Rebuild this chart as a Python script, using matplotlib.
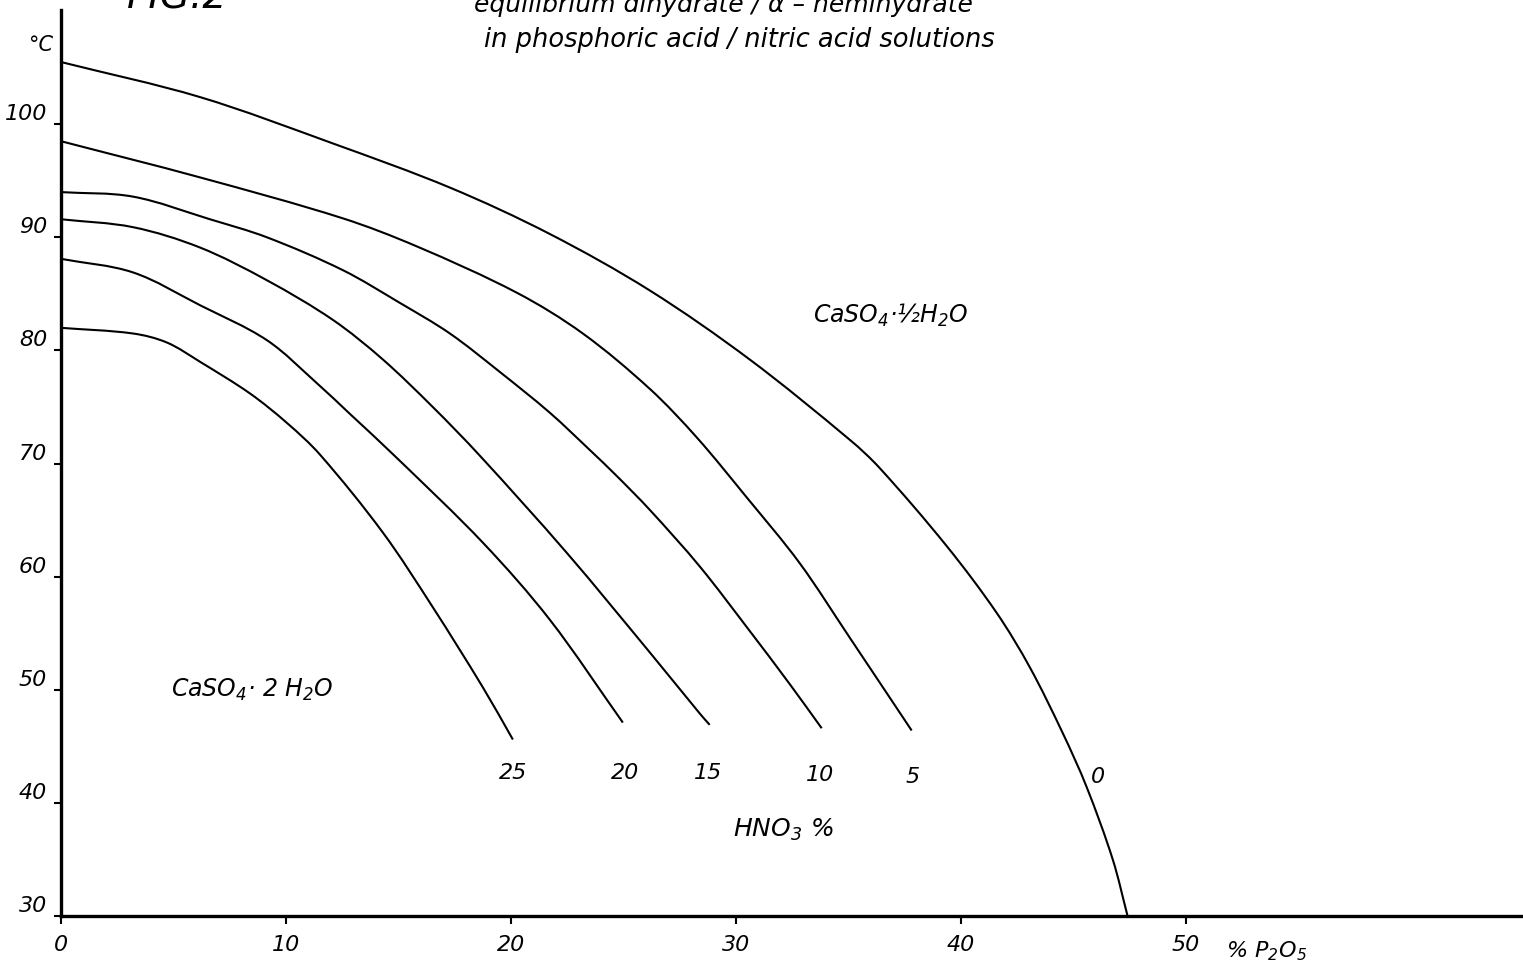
import matplotlib
matplotlib.use('Agg')
import matplotlib.pyplot as plt
from matplotlib.path import Path
from matplotlib.patches import PathPatch
import numpy as np

# boundary curves dihydrate / hemihydrate
# x: % P2O5, y: temperature in degC, one curve per HNO3 concentration
hno3_levels = ['0', '5', '10', '15', '20', '25']

p2o5_0 = [0.0, 6.18, 12.09, 17.29, 21.73, 26.18, 30.62, 35.07, 36.4, 39.38, 41.6, 43.07, 44.53, 45.6, 46.76, 47.42]
temp_0 = [105.5, 102.4, 98.3, 94.4, 90.3, 85.3, 79.2, 72.1, 69.6, 62.7, 56.8, 52.0, 46.2, 41.4, 35.0, 30.0]

p2o5_5 = [0.0, 6.18, 12.5, 15.82, 20.27, 23.2, 26.18, 28.27, 30.49, 32.84, 35.07, 37.82]
temp_5 = [98.5, 95.3, 91.7, 89.2, 85.1, 81.5, 76.6, 72.3, 67.0, 61.2, 54.6, 46.4]

p2o5_10 = [0.0, 3.2, 6.62, 9.16, 12.53, 15.07, 17.29, 19.51, 21.73, 23.51, 24.71, 26.18, 28.4, 30.62, 32.4, 33.82]
temp_10 = [94.0, 93.6, 91.6, 90.0, 87.1, 84.2, 81.5, 78.1, 74.5, 71.2, 68.9, 65.9, 60.9, 55.2, 50.5, 46.6]

p2o5_15 = [0.0, 3.2, 6.18, 9.16, 12.09, 14.31, 16.53, 18.62, 22.49, 26.18, 28.4, 28.84]
temp_15 = [91.6, 90.9, 89.1, 86.2, 82.7, 79.2, 75.0, 70.7, 62.1, 53.3, 47.9, 46.9]

p2o5_20 = [0.0, 3.2, 6.18, 9.16, 11.38, 12.84, 14.93, 18.76, 21.73, 24.98]
temp_20 = [88.1, 86.9, 84.0, 80.9, 77.1, 74.4, 70.5, 63.0, 56.2, 47.1]

p2o5_25 = [0.0, 3.2, 4.71, 6.18, 8.4, 10.04, 11.51, 14.31, 16.53, 18.76, 20.09]
temp_25 = [82.0, 81.5, 80.7, 79.0, 76.2, 73.6, 70.8, 63.9, 57.3, 50.2, 45.6]

x_ticks = [0, 10, 20, 30, 40, 50]
y_ticks = [30, 40, 50, 60, 70, 80, 90, 100]

plt.rcParams['mathtext.fontset'] = 'dejavusans'
plt.rcParams['mathtext.default'] = 'it'
plt.rcParams['font.style'] = 'italic'


def smooth_path(xs, ys, xscale=2.0):
    # chord-length Catmull-Rom through the read points, as cubic bezier segments
    pts = np.column_stack([xs, ys]).astype(float)
    n = len(pts)
    scaled = pts * [xscale, 1.0]
    d = np.hypot(*np.diff(scaled, axis=0).T)
    tang = np.zeros_like(pts)
    for i in range(n):
        if i == 0:
            tang[i] = (pts[1] - pts[0]) / d[0]
        elif i == n - 1:
            tang[i] = (pts[-1] - pts[-2]) / d[-1]
        else:
            tang[i] = (pts[i + 1] - pts[i - 1]) / (d[i - 1] + d[i])
    verts = [pts[0]]
    codes = [Path.MOVETO]
    for i in range(n - 1):
        verts += [pts[i] + tang[i] * d[i] / 3.0,
                  pts[i + 1] - tang[i + 1] * d[i] / 3.0,
                  pts[i + 1]]
        codes += [Path.CURVE4] * 3
    return Path(verts, codes)


fig = plt.figure(figsize=(15.23, 9.6), dpi=100)
ax = fig.add_axes([61 / 1523, 44 / 960, 1462 / 1523, 906 / 960])

curves = [(p2o5_0, temp_0), (p2o5_5, temp_5), (p2o5_10, temp_10),
          (p2o5_15, temp_15), (p2o5_20, temp_20), (p2o5_25, temp_25)]
for xs, ys in curves:
    ax.add_patch(PathPatch(smooth_path(xs, ys), facecolor='none', edgecolor='black',
                           linewidth=1.5, capstyle='butt'))

ax.set_xlim(0, 65)
ax.set_ylim(30, 110.1)

for side in ['top', 'right']:
    ax.spines[side].set_visible(False)
for side in ['left', 'bottom']:
    ax.spines[side].set_linewidth(2.4)
    ax.spines[side].set_color('black')
    ax.spines[side].set_zorder(5)

ax.set_xticks(x_ticks)
ax.set_xticklabels([str(v) for v in x_ticks], fontsize=16, fontstyle='italic')
ax.set_yticks(y_ticks)
ax.set_yticklabels([str(v) for v in y_ticks], fontsize=16, fontstyle='italic')
ax.tick_params(axis='x', direction='out', length=6, width=1.5, pad=8)
ax.tick_params(axis='y', direction='out', length=5, width=1.5, pad=5)
for lbl in ax.get_yticklabels():
    lbl.set_verticalalignment('bottom')

# curve labels (HNO3 %)
label_x = [46.1, 37.87, 33.73, 28.76, 25.07, 20.1]
label_y = [42.3, 42.3, 42.5, 42.6, 42.6, 42.6]
for lvl, lx, ly in zip(hno3_levels, label_x, label_y):
    ax.text(lx, ly, lvl, fontsize=16, ha='center', va='center')

ax.text(32.1, 37.6, r'HNO$_3$ %', fontsize=18, ha='center', va='center')
ax.text(36.9, 83.1, r'CaSO$_4$·½H$_2$O', fontsize=17, ha='center', va='center')
ax.text(8.5, 50.0, r'CaSO$_4$· 2 H$_2$O', fontsize=17, ha='center', va='center')
ax.text(53.6, 26.9, r'% P$_2$O$_5$', fontsize=16, ha='center', va='center', clip_on=False)
ax.text(-0.9, 107.0, '°C', fontsize=15, ha='center', va='center', clip_on=False)

fig.text(178 / 1523, 1 + 2 / 960, 'FIG.2', fontsize=28, ha='center', va='center')
fig.text(723 / 1523, 1 - 5 / 960, 'equilibrium dihydrate / α – hemihydrate',
         fontsize=18, ha='center', va='center')
fig.text(739 / 1523, 1 - 40 / 960, 'in phosphoric acid / nitric acid solutions',
         fontsize=18.5, ha='center', va='center')

fig.savefig('out.png', dpi=100)
